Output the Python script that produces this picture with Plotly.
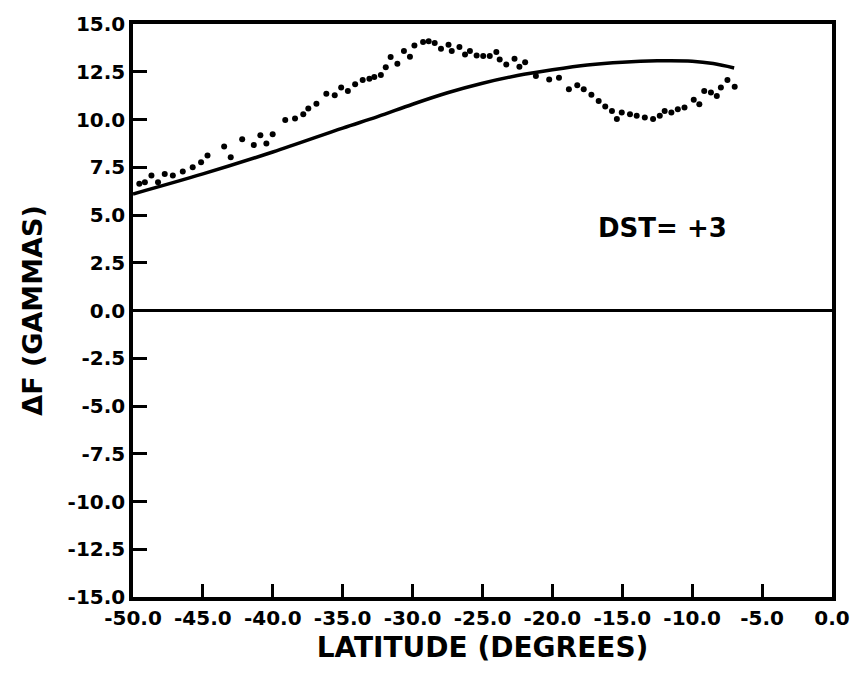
import plotly.graph_objects as go

# Solid curve (model)
model_lat = [-50, -45, -40, -35, -32.5, -30, -27.5, -25, -22.5, -20, -17.5, -15, -12.5, -10, -8.5, -7]
model_df = [6.1, 7.15, 8.3, 9.55, 10.15, 10.8, 11.4, 11.9, 12.3, 12.6, 12.85, 13.0, 13.07, 13.05, 12.93, 12.7]

# Dotted observations
obs_lat = [-49.55, -49.15, -48.68, -48.21, -47.73, -47.15, -46.44, -45.73, -45.13, -44.67,
           -43.48, -43.01, -42.19, -41.36, -40.89, -40.46, -40.01, -39.11, -38.41, -37.82,
           -37.46, -36.88, -36.17, -35.57, -35.11, -34.63, -34.11, -33.57, -33.09, -32.74,
           -32.27, -31.92, -31.57, -31.09, -30.62, -30.19, -29.87, -29.25, -28.85, -28.42,
           -27.97, -27.43, -27.2, -26.65, -26.25, -25.9, -25.42, -24.95, -24.48, -24.01,
           -23.77, -23.3, -22.71, -22.36, -21.95, -21.18, -20.23, -19.53, -18.82, -18.22,
           -17.76, -17.21, -16.69, -16.22, -15.74, -15.39, -15.04, -14.45, -13.97, -13.39,
           -12.8, -12.32, -11.97, -11.49, -11.03, -10.55, -9.89, -9.49, -9.14, -8.66,
           -8.24, -7.95, -7.48, -6.96]
obs_df = [6.63, 6.72, 7.07, 6.72, 7.15, 7.07, 7.28, 7.5, 7.76, 8.11,
          8.59, 8.02, 8.97, 8.66, 9.18, 8.75, 9.23, 9.98, 10.05, 10.28,
          10.57, 10.83, 11.35, 11.27, 11.67, 11.49, 11.84, 12.07, 12.14, 12.22,
          12.33, 12.74, 13.27, 12.92, 13.58, 13.28, 13.87, 14.06, 14.1, 14.01,
          13.7, 13.92, 13.58, 13.79, 13.4, 13.58, 13.35, 13.32, 13.32, 13.53,
          13.14, 12.88, 13.18, 12.76, 13.0, 12.28, 12.1, 12.19, 11.58, 11.79,
          11.58, 11.29, 10.97, 10.68, 10.45, 10.02, 10.36, 10.28, 10.19, 10.1,
          10.02, 10.19, 10.45, 10.36, 10.54, 10.63, 11.03, 10.8, 11.49, 11.41,
          11.23, 11.67, 12.07, 11.72]

x_tickvals = [-50, -45, -40, -35, -30, -25, -20, -15, -10, -5, 0]
x_ticktext = ["-50.0", "-45.0", "-40.0", "-35.0", "-30.0", "-25.0", "-20.0", "-15.0", "-10.0", "-5.0", "0.0"]
y_tickvals = [15, 12.5, 10, 7.5, 5, 2.5, 0, -2.5, -5, -7.5, -10, -12.5, -15]
y_ticktext = ["15.0", "12.5", "10.0", "7.5", "5.0", "2.5", "0.0", "-2.5", "-5.0", "-7.5", "-10.0", "-12.5", "-15.0"]

FONT = "DejaVu Sans"

fig = go.Figure()
fig.add_trace(go.Scatter(x=model_lat, y=model_df, mode="lines",
                         line=dict(color="black", width=3.5, shape="spline"),
                         showlegend=False))
fig.add_trace(go.Scatter(x=obs_lat, y=obs_df, mode="markers",
                         marker=dict(color="black", size=6),
                         showlegend=False))

fig.add_annotation(x=-12.1, y=4.3, text="<b>DST= +3</b>", showarrow=False,
                   font=dict(family=FONT, size=26, color="black"))

fig.update_layout(
    width=862, height=682,
    margin=dict(l=133, r=26, t=21, b=85),
    paper_bgcolor="white", plot_bgcolor="white",
    font=dict(family=FONT, color="black"),
)
fig.update_xaxes(
    range=[-50, 0], tickvals=x_tickvals, ticktext=x_ticktext,
    ticks="inside", ticklen=13, tickwidth=2.5, tickcolor="black",
    showline=True, linewidth=3.5, linecolor="black", mirror=True,
    showgrid=False, zeroline=False,
    tickfont=dict(family=FONT, size=20, color="black", weight="bold"),
    title=dict(text="LATITUDE (DEGREES)", standoff=10,
               font=dict(family=FONT, size=28, color="black", weight="bold")),
)
fig.update_yaxes(
    range=[-15, 15], tickvals=y_tickvals, ticktext=y_ticktext,
    ticks="inside", ticklen=14, tickwidth=2.5, tickcolor="black",
    showline=True, linewidth=3.5, linecolor="black", mirror=True,
    showgrid=False, zeroline=True, zerolinecolor="black", zerolinewidth=3,
    tickfont=dict(family=FONT, size=20, color="black", weight="bold"),
    title=dict(text="ΔF (GAMMAS)", standoff=18,
               font=dict(family=FONT, size=27, color="black", weight="bold")),
)

fig.write_html("out.html",
               config={"displayModeBar": False},
               post_script="document.body.style.margin='0';document.body.style.overflow='hidden';")
